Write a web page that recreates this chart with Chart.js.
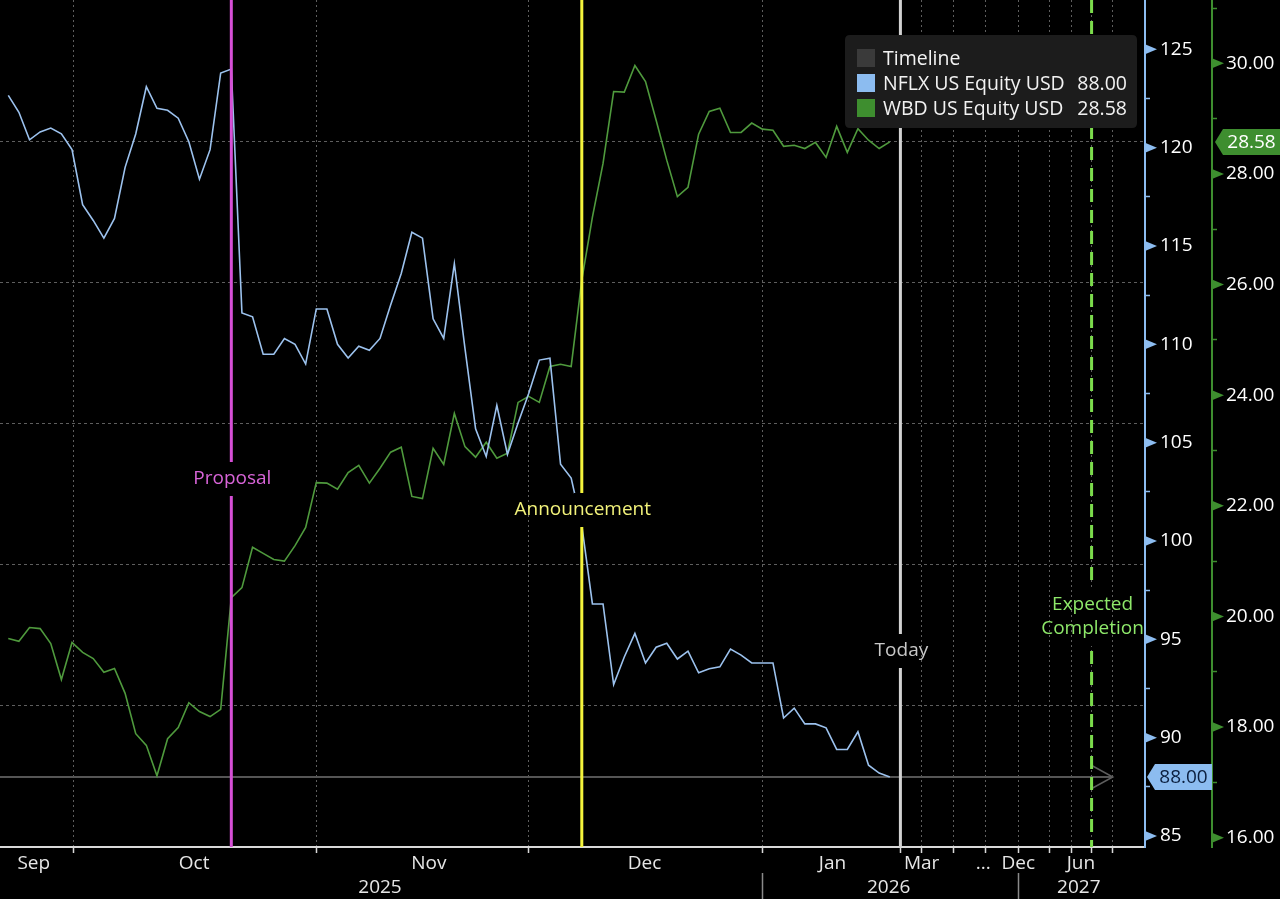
<!DOCTYPE html>
<html><head><meta charset="utf-8">
<script src="https://cdn.jsdelivr.net/npm/chart.js@4.4.1/dist/chart.umd.min.js"></script>
<style>
html,body{margin:0;padding:0;background:#000;}
#wrap{position:relative;width:1280px;height:899px;background:#000;}
canvas{display:block;}
</style></head><body>
<div id="wrap"><canvas id="c" width="1280" height="899"></canvas></div>
<script>
// ---------------- DATA ----------------
// NFLX US Equity (USD), one value per trading day (index 0 = first day shown)
const nflx = [122.66, 121.8, 120.4, 120.8, 121.0, 120.7, 119.9, 117.1, 116.3, 115.4,
  116.4, 119.0, 120.7, 123.1, 122.0, 121.9, 121.5, 120.3, 118.4, 119.9,
  123.8, 124.0, 111.6, 111.4, 109.5, 109.5, 110.3, 110.0, 109.0, 111.8,
  111.8, 110.0, 109.3, 109.9, 109.7, 110.3, 112.0, 113.6, 115.7, 115.4,
  111.3, 110.3, 114.1, 109.8, 105.7, 104.3, 106.9, 104.4, 106.0, 107.5,
  109.2, 109.3, 103.9, 103.2, 100.8, 96.8, 96.8, 92.7, 94.1, 95.3,
  93.8, 94.6, 94.8, 94.0, 94.4, 93.3, 93.5, 93.6, 94.5, 94.2,
  93.8, 93.8, 93.8, 91.0, 91.5, 90.7, 90.7, 90.5, 89.4, 89.4,
  90.3, 88.6, 88.2, 88.00];
// WBD US Equity (USD)
const wbd = [19.60, 19.55, 19.80, 19.78, 19.51, 18.86, 19.53, 19.35, 19.24, 18.99,
  19.06, 18.61, 17.88, 17.67, 17.12, 17.79, 17.99, 18.44, 18.28, 18.19,
  18.32, 20.34, 20.52, 21.25, 21.14, 21.03, 21.00, 21.28, 21.61, 22.42,
  22.41, 22.30, 22.60, 22.73, 22.41, 22.68, 22.97, 23.06, 22.17, 22.13,
  23.04, 22.75, 23.67, 23.07, 22.88, 23.15, 22.86, 22.95, 23.87, 23.98,
  23.87, 24.52, 24.56, 24.52, 26.08, 27.22, 28.19, 29.49, 29.48, 29.96,
  29.67, 28.97, 28.25, 27.59, 27.76, 28.72, 29.13, 29.19, 28.75, 28.75,
  28.92, 28.81, 28.79, 28.50, 28.52, 28.46, 28.57, 28.30, 28.86, 28.39,
  28.82, 28.61, 28.46, 28.58];
// Timeline reference line (level and span on the time index)
const timelineLevel = 88.00;
const timelineSpan = [-0.78, 104.0];
// Time axis (trading-day index units, future part compressed as in source)
const axisRange = [-0.78, 107.03];
const periodBoundaries = [6.1, 29, 49, 71, 84, 86, 89, 92, 95.1, 98, 100.1, 102, 104];
const monthLabelPos = [2.4, 17.5, 39.6, 59.9, 77.6, 86.0, 91.8, 95.1, 101.0];
const monthLabels = ['Sep', 'Oct', 'Nov', 'Dec', 'Jan', 'Mar', '...', 'Dec', 'Jun'];
const yearLabelPos = [35.0, 82.9, 100.8];
const yearLabels = ['2025', '2026', '2027'];
const yearSeparators = [70.97, 95.07];
// Events
const eventLabels = ['Proposal', 'Announcement', 'Today', 'Expected\nCompletion'];
const eventIndex = [21, 54, 84, 102];
// Value axes
const nflxRange = [84.44, 127.51];
const nflxMajor = [85, 90, 95, 100, 105, 110, 115, 120, 125];
const nflxMinor = [87.5, 92.5, 97.5, 102.5, 107.5, 112.5, 117.5, 122.5];
const wbdRange = [15.832, 31.145];
const wbdMajor = [16, 18, 20, 22, 24, 26, 28, 30];
const wbdMinor = [17, 19, 21, 23, 25, 27, 29, 31];

// ---------------- STYLE ----------------
const FONT = '"Open Sans","Noto Sans",sans-serif';
const BLUE = '#9cc2ee', BLUE_AX = '#8cbcf0', GREEN = '#4f9a3d', GREEN_AX = '#3e8e2f';
const eventStyles = [
  {color: '#d64fd6', text: '#d864d8', width: 3, y: 479},
  {color: '#f4f43c', text: '#f2f27a', width: 3, y: 510},
  {color: '#d2d2d2', text: '#c8c8c8', width: 3, y: 651},
  {color: '#7cdc4c', text: '#8ee86a', width: 3, y: 617, dash: [13, 8]}
];
Chart.defaults.font.family = FONT;
Chart.defaults.color = '#e8e8e8';

function zeroPad(s) { s.paddingLeft = 0; s.paddingRight = 0; s.paddingTop = 0; s.paddingBottom = 0; }

const decor = {
  id: 'decor',
  afterDatasetsDraw(chart) {
    const {ctx, chartArea: a, scales} = chart;
    const xs = scales.x;
    ctx.save();
    // arrow head at end of timeline
    const tl = chart.getDatasetMeta(0).data;
    const end = tl[tl.length - 1];
    ctx.strokeStyle = '#5e5e5e'; ctx.lineWidth = 1.5;
    ctx.beginPath(); ctx.moveTo(end.x - 22, end.y - 12); ctx.lineTo(end.x, end.y); ctx.lineTo(end.x - 22, end.y + 12); ctx.stroke();
    // event lines + labels
    ctx.font = '19px ' + FONT;
    eventLabels.forEach((lab, i) => {
      const st = eventStyles[i];
      const px = xs.getPixelForValue(eventIndex[i]);
      ctx.setLineDash(st.dash || []);
      ctx.strokeStyle = st.color; ctx.lineWidth = st.width;
      ctx.beginPath(); ctx.moveTo(px, a.top); ctx.lineTo(px, a.bottom); ctx.stroke();
      ctx.setLineDash([]);
      const lines = lab.split('\n');
      const lh = 24;
      const h = lines.length * lh + 10;
      ctx.fillStyle = '#000';
      ctx.fillRect(px - 8, st.y - h / 2, 16, h);
      ctx.fillStyle = st.text; ctx.textAlign = 'center'; ctx.textBaseline = 'middle';
      lines.forEach((l, j) => ctx.fillText(l, px + 1, st.y - (lines.length - 1) * lh / 2 + j * lh));
    });
    ctx.restore();
  },
  afterDraw(chart) {
    const {ctx, scales} = chart;
    const ys = scales.y, y1 = scales.y1, xs = scales.x;
    ctx.save();
    const tri = (x, y, c) => { ctx.fillStyle = c; ctx.beginPath(); ctx.moveTo(x, y - 5); ctx.lineTo(x + 12, y); ctx.lineTo(x, y + 5); ctx.closePath(); ctx.fill(); };
    nflxMajor.forEach(v => tri(ys.left, ys.getPixelForValue(v), BLUE_AX));
    wbdMajor.forEach(v => tri(y1.left, y1.getPixelForValue(v), GREEN_AX));
    // value tags
    ctx.font = '19px ' + FONT;
    const tag = (x0, x1, y, fill, tc, text) => {
      ctx.fillStyle = fill; ctx.beginPath();
      ctx.moveTo(x0, y); ctx.lineTo(x0 + 8, y - 13); ctx.lineTo(x1, y - 13); ctx.lineTo(x1, y + 13); ctx.lineTo(x0 + 8, y + 13); ctx.closePath(); ctx.fill();
      ctx.fillStyle = tc; ctx.textAlign = 'center'; ctx.textBaseline = 'middle';
      ctx.fillText(text, (x0 + 8 + x1) / 2, y + 1);
    };
    const nLast = nflx[nflx.length - 1], wLast = wbd[wbd.length - 1];
    tag(ys.left + 2, ys.right, ys.getPixelForValue(nLast), BLUE_AX, '#0b1f3f', nLast.toFixed(2));
    tag(y1.left + 3, y1.right, y1.getPixelForValue(wLast), GREEN_AX, '#ffffff', wLast.toFixed(2));
    // year separators
    ctx.strokeStyle = '#8a8a8a'; ctx.lineWidth = 1.5;
    yearSeparators.forEach(v => {
      const px = Math.round(xs.getPixelForValue(v)) + 0.5;
      ctx.beginPath(); ctx.moveTo(px, chart.height - 26); ctx.lineTo(px, chart.height); ctx.stroke();
    });
    // legend
    const L = {x: 845, y: 35, w: 292, h: 93, r: 5};
    ctx.fillStyle = '#1c1c1c';
    ctx.beginPath();
    ctx.moveTo(L.x + L.r, L.y); ctx.lineTo(L.x + L.w - L.r, L.y); ctx.quadraticCurveTo(L.x + L.w, L.y, L.x + L.w, L.y + L.r);
    ctx.lineTo(L.x + L.w, L.y + L.h - L.r); ctx.quadraticCurveTo(L.x + L.w, L.y + L.h, L.x + L.w - L.r, L.y + L.h);
    ctx.lineTo(L.x + L.r, L.y + L.h); ctx.quadraticCurveTo(L.x, L.y + L.h, L.x, L.y + L.h - L.r);
    ctx.lineTo(L.x, L.y + L.r); ctx.quadraticCurveTo(L.x, L.y, L.x + L.r, L.y); ctx.closePath(); ctx.fill();
    ctx.font = '19.5px ' + FONT;
    chart.data.datasets.forEach((ds, i) => {
      const cy = 59 + i * 25;
      ctx.fillStyle = ds.legendColor;
      ctx.fillRect(857, cy - 10, 18, 18);
      ctx.fillStyle = '#f2f2f2'; ctx.textBaseline = 'middle';
      ctx.textAlign = 'left'; ctx.fillText(ds.label, 883, cy);
      if (ds.showValue) {
        const d = ds.data[ds.data.length - 1].y;
        ctx.textAlign = 'right'; ctx.fillText(d.toFixed(2), 1127, cy);
      }
    });
    ctx.restore();
  }
};

const chart = new Chart(document.getElementById('c'), {
  type: 'line',
  data: {
    datasets: [
      {label: 'Timeline', data: timelineSpan.map(x => ({x, y: timelineLevel})), yAxisID: 'y',
        borderColor: '#555555', legendColor: '#3a3a3a', borderWidth: 2, pointRadius: 0, order: 3, showValue: false},
      {label: 'NFLX US Equity USD', data: nflx.map((v, i) => ({x: i, y: v})), yAxisID: 'y',
        borderColor: BLUE, legendColor: BLUE_AX, borderWidth: 1.6, pointRadius: 0, tension: 0, order: 1, showValue: true},
      {label: 'WBD US Equity USD', data: wbd.map((v, i) => ({x: i, y: v})), yAxisID: 'y1',
        borderColor: GREEN, legendColor: GREEN_AX, borderWidth: 1.6, pointRadius: 0, tension: 0, order: 2, showValue: true}
    ]
  },
  options: {
    responsive: false, animation: false, devicePixelRatio: 1,
    layout: {padding: 0, autoPadding: false},
    plugins: {legend: {display: false}, tooltip: {enabled: false}},
    scales: {
      x: {
        type: 'linear', position: 'bottom', weight: 0, min: axisRange[0], max: axisRange[1],
        afterBuildTicks: s => { s.ticks = periodBoundaries.map(v => ({value: v})); },
        ticks: {display: false},
        grid: {color: '#5e5e5e', lineWidth: 1, drawTicks: true, tickLength: 6, tickColor: '#d8d8d8', tickWidth: 1.5, tickBorderDash: []},
        border: {display: true, color: '#d8d8d8', width: 2, dash: [2, 3]},
        afterFit: s => { s.height = 0; zeroPad(s); }
      },
      xm: {
        type: 'linear', position: 'bottom', weight: 1, min: axisRange[0], max: axisRange[1],
        afterBuildTicks: s => { s.ticks = monthLabelPos.map(v => ({value: v})); },
        ticks: {autoSkip: false, maxRotation: 0, minRotation: 0, padding: 5, color: '#e6e6e6', font: {size: 19},
          callback: (v, i) => monthLabels[i]},
        grid: {display: false, drawTicks: false},
        border: {display: false},
        afterFit: s => { s.height = 26; zeroPad(s); }
      },
      xy: {
        type: 'linear', position: 'bottom', weight: 2, min: axisRange[0], max: axisRange[1],
        afterBuildTicks: s => { s.ticks = yearLabelPos.map(v => ({value: v})); },
        ticks: {autoSkip: false, maxRotation: 0, minRotation: 0, padding: 3, color: '#e6e6e6', font: {size: 19},
          callback: (v, i) => yearLabels[i]},
        grid: {display: false, drawTicks: false},
        border: {display: false},
        afterFit: s => { s.height = 26; zeroPad(s); }
      },
      y: {
        type: 'linear', position: 'right', weight: 0, min: nflxRange[0], max: nflxRange[1],
        afterBuildTicks: s => { s.ticks = nflxMajor.concat(nflxMinor).sort((a, b) => a - b).map(v => ({value: v})); },
        ticks: {autoSkip: false, padding: 10, color: '#ffffff', font: {size: 19},
          callback: v => nflxMajor.includes(v) ? String(v) : ''},
        grid: {drawOnChartArea: false, drawTicks: true, tickLength: 5, tickWidth: 1.5,
          tickColor: c => (c.tick && nflxMajor.includes(c.tick.value)) ? 'rgba(0,0,0,0)' : BLUE_AX},
        border: {display: true, color: BLUE_AX, width: 2},
        afterFit: s => { s.width = 67; zeroPad(s); }
      },
      y1: {
        type: 'linear', position: 'right', weight: 1, min: wbdRange[0], max: wbdRange[1],
        afterBuildTicks: s => { s.ticks = wbdMajor.concat(wbdMinor).sort((a, b) => a - b).map(v => ({value: v})); },
        ticks: {autoSkip: false, padding: 9, color: '#ffffff', font: {size: 19},
          callback: v => wbdMajor.includes(v) ? v.toFixed(2) : ''},
        grid: {drawOnChartArea: false, drawTicks: true, tickLength: 5, tickWidth: 1.5,
          tickColor: c => (c.tick && wbdMajor.includes(c.tick.value)) ? 'rgba(0,0,0,0)' : GREEN_AX},
        border: {display: true, color: GREEN_AX, width: 2},
        afterFit: s => { s.width = 68; zeroPad(s); }
      },
      yg: {
        type: 'linear', position: 'left', min: 0, max: 6,
        ticks: {display: false, stepSize: 1},
        grid: {drawTicks: false, lineWidth: 1,
          color: c => (c.tick && (c.tick.value === 0 || c.tick.value === 6)) ? 'rgba(0,0,0,0)' : '#5e5e5e'},
        border: {display: false, dash: [3, 3]},
        afterFit: s => { s.width = 0; zeroPad(s); }
      }
    }
  },
  plugins: [decor]
});
</script>
</body></html>
